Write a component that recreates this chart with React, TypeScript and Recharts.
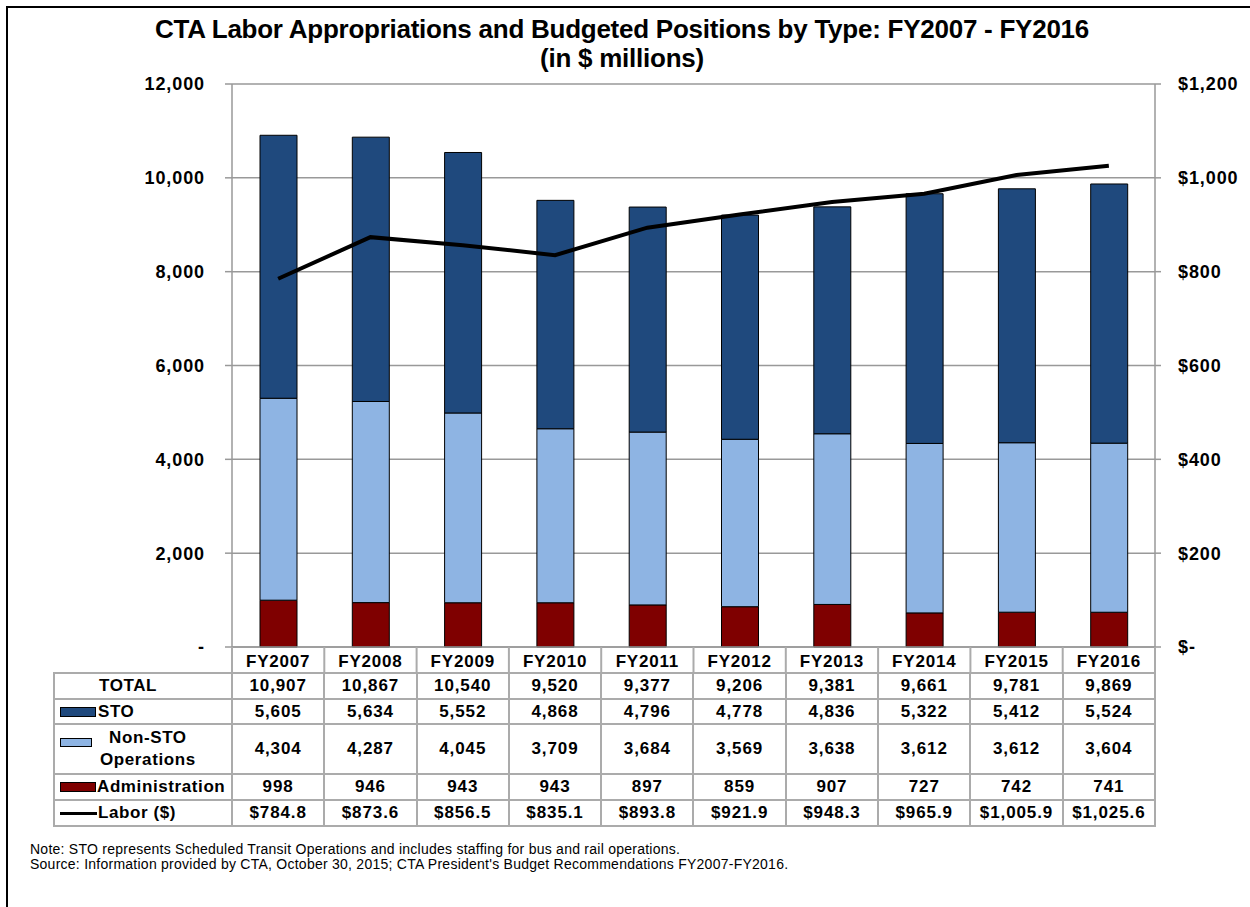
import React from 'react';
import { ComposedChart, Bar, Line, XAxis, YAxis, CartesianGrid } from 'recharts';

document.body.style.margin = '0';

const years = ['FY2007', 'FY2008', 'FY2009', 'FY2010', 'FY2011', 'FY2012', 'FY2013', 'FY2014', 'FY2015', 'FY2016'];
const totals = [10907, 10867, 10540, 9520, 9377, 9206, 9381, 9661, 9781, 9869];
const sto = [5605, 5634, 5552, 4868, 4796, 4778, 4836, 5322, 5412, 5524];
const nonSto = [4304, 4287, 4045, 3709, 3684, 3569, 3638, 3612, 3612, 3604];
const admin = [998, 946, 943, 943, 897, 859, 907, 727, 742, 741];
const labor = [784.8, 873.6, 856.5, 835.1, 893.8, 921.9, 948.3, 965.9, 1005.9, 1025.6];

const leftTicks = [0, 2000, 4000, 6000, 8000, 10000, 12000];
const rightTicks = [0, 200, 400, 600, 800, 1000, 1200];

const data = years.map((year, i) => ({
    year,
    sto: sto[i],
    nonSto: nonSto[i],
    admin: admin[i],
    labor: labor[i],
}));

const FONT = '"Liberation Sans", Arial, sans-serif';
const GRID = '#999999';
const BORDER = '2px solid #ababab';
const COL_W = 92.3;
const LABEL_W = 178;

const fmtCount = (v: number) => (v === 0 ? '-' : v.toLocaleString('en-US'));
const fmtMoney = (v: number) => (v === 0 ? '$-' : '$' + v.toLocaleString('en-US'));
const fmtLabor = (v: number) => '$' + v.toLocaleString('en-US', { minimumFractionDigits: 1, maximumFractionDigits: 1 });

const axisTick = { fontFamily: FONT, fontSize: 18, fontWeight: 'bold', fill: '#000', letterSpacing: 0.9 };

function YearTick(props: any) {
    const { x, y, payload } = props;
    const last = payload.index === years.length - 1;
    return (
        <g>
            <line x1={x - COL_W / 2} x2={x - COL_W / 2} y1={y} y2={y + 26} stroke="#ababab" strokeWidth={2} />
            {last && <line x1={x + COL_W / 2} x2={x + COL_W / 2} y1={y} y2={y + 26} stroke="#ababab" strokeWidth={2} />}
            <text x={x} y={y + 20} textAnchor="middle" fontFamily={FONT} fontSize={17} fontWeight="bold" fill="#000" letterSpacing={0.8}>
                {payload.value}
            </text>
        </g>
    );
}

function Swatch({ color, w = 36, h = 10 }: { color: string; w?: number; h?: number }) {
    return <span style={{ display: 'inline-block', width: w, height: h, background: color, border: '1px solid #000', boxSizing: 'border-box' }} />;
}

const rows = [
    { key: 'total', values: totals.map(fmtCount), height: 26 },
    { key: 'sto', values: sto.map(fmtCount), height: 25 },
    { key: 'nonSto', values: nonSto.map(fmtCount), height: 50 },
    { key: 'admin', values: admin.map(fmtCount), height: 26 },
    { key: 'labor', values: labor.map(fmtLabor), height: 26 },
];

function RowLabel({ k }: { k: string }) {
    const text: React.CSSProperties = { fontWeight: 'bold', fontSize: 17, letterSpacing: 0.6 };
    if (k === 'total') return <div style={{ ...text, paddingLeft: 44 }}>TOTAL</div>;
    if (k === 'sto')
        return (
            <div style={{ display: 'flex', alignItems: 'center', paddingLeft: 5 }}>
                <Swatch color="#1F497D" />
                <span style={{ ...text, marginLeft: 2 }}>STO</span>
            </div>
        );
    if (k === 'nonSto')
        return (
            <div style={{ display: 'flex', alignItems: 'flex-start', paddingLeft: 5 }}>
                <span style={{ marginTop: 6 }}>
                    <Swatch color="#8EB4E3" w={32} h={9} />
                </span>
                <span style={{ ...text, textAlign: 'center', lineHeight: '22px', marginLeft: 8 }}>
                    Non-STO
                    <br />
                    Operations
                </span>
            </div>
        );
    if (k === 'admin')
        return (
            <div style={{ display: 'flex', alignItems: 'center', paddingLeft: 5 }}>
                <Swatch color="#7F0000" />
                <span style={{ ...text, marginLeft: 1 }}>Administration</span>
            </div>
        );
    return (
        <div style={{ display: 'flex', alignItems: 'center', paddingLeft: 5 }}>
            <span style={{ display: 'inline-block', width: 37, height: 3, background: '#000' }} />
            <span style={{ ...text, marginLeft: 1 }}>Labor ($)</span>
        </div>
    );
}

export default function App() {
    return (
        <div style={{ position: 'relative', width: 1250, height: 907, overflow: 'hidden', background: '#fff', fontFamily: FONT, color: '#000' }}>
            <div style={{ position: 'absolute', left: 6, top: 6, width: 1400, height: 1100, borderLeft: '2px solid #000', borderTop: '2px solid #000' }} />
            <div style={{ position: 'absolute', top: 15, left: 0, width: 1244, textAlign: 'center', fontWeight: 'bold', fontSize: 26, lineHeight: '29px', letterSpacing: -0.25 }}>
                CTA Labor Appropriations and Budgeted Positions by Type: FY2007 - FY2016
                <br />
                (in $ millions)
            </div>
            <div style={{ position: 'absolute', left: 0, top: 0 }}>
                <ComposedChart width={1250} height={673} data={data} margin={{ top: 84, right: 0, bottom: 0, left: 0 }} barSize={37}>
                    <CartesianGrid yAxisId="left" vertical={false} stroke={GRID} strokeWidth={1.5} />
                    <XAxis dataKey="year" height={26} tickLine={false} tickSize={0} tickMargin={0} axisLine={{ stroke: GRID, strokeWidth: 1.5 }} tick={<YearTick />} interval={0} />
                    <YAxis
                        yAxisId="left"
                        width={232}
                        domain={[0, 12000]}
                        ticks={leftTicks}
                        tickFormatter={fmtCount}
                        tick={axisTick}
                        tickSize={7}
                        tickMargin={20}
                        axisLine={{ stroke: GRID, strokeWidth: 1.5 }}
                        tickLine={{ stroke: GRID, strokeWidth: 1.5 }}
                    />
                    <YAxis
                        yAxisId="right"
                        orientation="right"
                        width={95}
                        domain={[0, 1200]}
                        ticks={rightTicks}
                        tickFormatter={fmtMoney}
                        tick={axisTick}
                        tickSize={6}
                        tickMargin={17}
                        axisLine={{ stroke: GRID, strokeWidth: 1.5 }}
                        tickLine={{ stroke: GRID, strokeWidth: 1.5 }}
                    />
                    <Bar yAxisId="left" dataKey="admin" stackId="a" fill="#7F0000" stroke="#000" strokeWidth={1} isAnimationActive={false} />
                    <Bar yAxisId="left" dataKey="nonSto" stackId="a" fill="#8EB4E3" stroke="#000" strokeWidth={1} isAnimationActive={false} />
                    <Bar yAxisId="left" dataKey="sto" stackId="a" fill="#1F497D" stroke="#000" strokeWidth={1} isAnimationActive={false} />
                    <Line yAxisId="right" dataKey="labor" type="linear" stroke="#000" strokeWidth={4} dot={false} isAnimationActive={false} />
                </ComposedChart>
            </div>
            <table
                style={{
                    position: 'absolute',
                    top: 672,
                    left: 53,
                    borderCollapse: 'collapse',
                    tableLayout: 'fixed',
                    width: LABEL_W + COL_W * years.length + 2,
                    fontFamily: FONT,
                }}
            >
                <colgroup>
                    <col style={{ width: LABEL_W }} />
                    {years.map((y) => (
                        <col key={y} style={{ width: COL_W }} />
                    ))}
                </colgroup>
                <tbody>
                    {rows.map((r) => (
                        <tr key={r.key} style={{ height: r.height }}>
                            <td style={{ border: BORDER, padding: 0 }}>
                                <RowLabel k={r.key} />
                            </td>
                            {r.values.map((v, i) => (
                                <td key={i} style={{ border: BORDER, padding: 0, textAlign: 'center', fontWeight: 'bold', fontSize: 17, letterSpacing: 0.9 }}>
                                    {v}
                                </td>
                            ))}
                        </tr>
                    ))}
                </tbody>
            </table>
            <div style={{ position: 'absolute', left: 30, top: 842, fontSize: 14, lineHeight: '15px', letterSpacing: 0.25 }}>
                Note: STO represents Scheduled Transit Operations and includes staffing for bus and rail operations.
                <br />
                Source: Information provided by CTA, October 30, 2015; CTA President's Budget Recommendations FY2007-FY2016.
            </div>
        </div>
    );
}
